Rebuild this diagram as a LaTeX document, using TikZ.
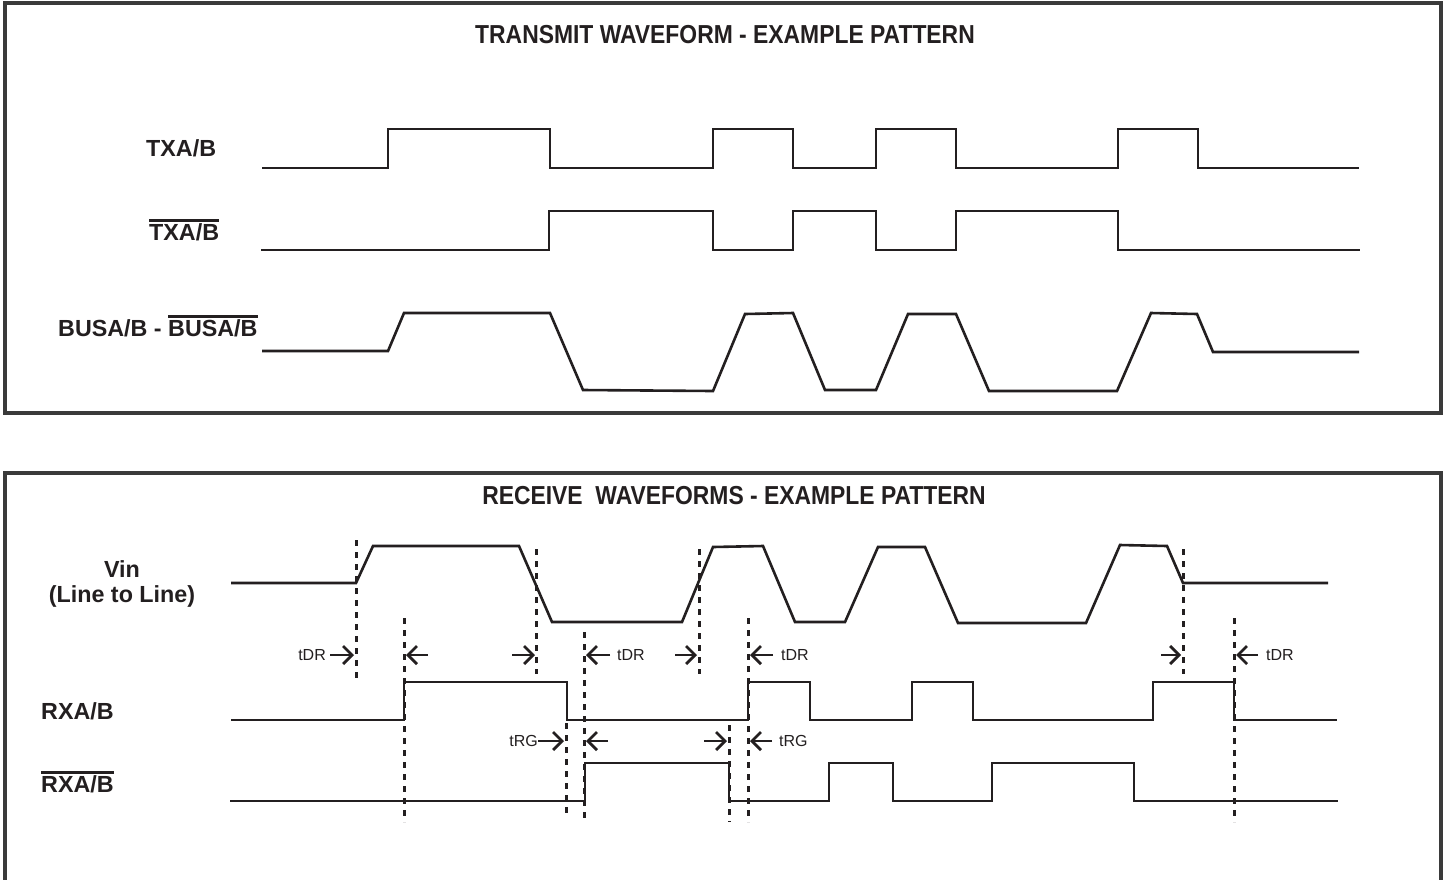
\documentclass[tikz,border=0pt]{standalone}
\usepackage{fontspec}
\setmainfont{Liberation Sans}
\newfontfamily\titlefam[FakeStretch=0.88]{Liberation Sans}
\usetikzlibrary{arrows.meta}
\definecolor{ink}{HTML}{231F20}
\definecolor{frame}{HTML}{3A3A3A}
\newcommand\ovl[1]{\vbox{\hrule height 2.6pt\kern 1.5pt\hbox{#1}}}
\tikzset{
  wave/.style={draw=ink, line width=2.6pt, line join=miter},
  panel/.style={draw=frame, line width=3.2pt},
  guide/.style={draw=ink, line width=3pt, dash pattern=on 5.5pt off 6.5pt},
  dimarrow/.style={draw=ink, line width=2.6pt, -{Straight Barb[length=9pt,width=18pt,line width=2.8pt]}},
  title/.style={inner sep=0pt, text=ink, font=\titlefam\bfseries\fontsize{26}{30}\selectfont},
  siglabel/.style={inner sep=0pt, text=ink, font=\bfseries\fontsize{23.3}{27}\selectfont},
  timelabel/.style={inner sep=0pt, text=ink, font=\fontsize{16}{18}\selectfont}
}
\begin{document}
\begin{tikzpicture}[x=1pt,y=-1pt]
\useasboundingbox (0,0) rectangle (1447,879);
\fill[white] (0,0) rectangle (1447,879);

% ---------------- Transmit panel ----------------
\draw[panel] (5,3) rectangle (1441,413);
\node[title, anchor=base] (ttitle) at (725,43) {TRANSMIT WAVEFORM - EXAMPLE PATTERN};

\node[siglabel, anchor=base west] (ltx) at (146,156) {TXA/B};
\node[siglabel, anchor=base west] (ltxb) at (149,240) {\ovl{TXA/B}};
\node[siglabel, anchor=base west] (lbus) at (58,336) {BUSA/B - \ovl{BUSA/B}};

\draw[wave] (262,168) -- (388,168) -- (388,129) -- (550,129) -- (550,168) -- (713,168) -- (713,129) -- (793,129) -- (793,168) -- (876,168) -- (876,129) -- (956,129) -- (956,168) -- (1118,168) -- (1118,129) -- (1198,129) -- (1198,168) -- (1359,168);

\draw[wave] (261,250) -- (549,250) -- (549,211) -- (713,211) -- (713,250) -- (793,250) -- (793,211) -- (876,211) -- (876,250) -- (956,250) -- (956,211) -- (1118,211) -- (1118,250) -- (1360,250);

\draw[wave] (262,351) -- (388,351) -- (404,313) -- (550,313) -- (583,390) -- (713,391) -- (745,314) -- (793,313) -- (825,390) -- (876,390) -- (908,314) -- (956,314) -- (989,391) -- (1117,391) -- (1151,313) -- (1197,314) -- (1213,352) -- (1359,352);

% ---------------- Receive panel ----------------
\draw[panel] (5,882) -- (5,473) -- (1441,473) -- (1441,882);
\node[title, anchor=base] (rtitle) at (734,504) {RECEIVE\ \ WAVEFORMS - EXAMPLE PATTERN};

\node[siglabel, anchor=base] (lvin) at (122,577) {Vin};
\node[siglabel, anchor=base] (lvin2) at (122,602) {(Line to Line)};
\node[siglabel, anchor=base west] (lrx) at (41,719) {RXA/B};
\node[siglabel, anchor=base west] (lrxb) at (41,792) {\ovl{RXA/B}};

\draw[wave] (231,583) -- (356,583) -- (373,546) -- (519,546) -- (552,622) -- (682,622) -- (713,547) -- (763,546) -- (795,622) -- (845,622) -- (878,547) -- (925,547) -- (958,623) -- (1086,623) -- (1120,545) -- (1167,546) -- (1183,583) -- (1328,583);

\draw[wave] (231,720) -- (404,720) -- (404,682) -- (567,682) -- (567,720) -- (748,720) -- (748,682) -- (810,682) -- (810,720) -- (912,720) -- (912,682) -- (973,682) -- (973,720) -- (1153,720) -- (1153,682) -- (1234,682) -- (1234,720) -- (1337,720);

\draw[wave] (230,801) -- (585,801) -- (585,763) -- (729,763) -- (729,801) -- (829,801) -- (829,763) -- (893,763) -- (893,801) -- (992,801) -- (992,763) -- (1134,763) -- (1134,801) -- (1338,801);

% guide lines
\draw[guide] (356,540) -- (356,678);
\draw[guide] (404,618) -- (404,822);
\draw[guide] (536,549) -- (536,674);
\draw[guide] (584,632) -- (584,822);
\draw[guide] (699,549) -- (699,674);
\draw[guide] (748,618) -- (748,822);
\draw[guide] (566,723) -- (566,817);
\draw[guide] (729,725) -- (729,822);
\draw[guide] (1183,549) -- (1183,674);
\draw[guide] (1234,618) -- (1234,822);

% tDR arrows
\node[timelabel, anchor=base east] (tdr1) at (326,660.5) {tDR};
\coordinate (a1) at (354,655);
\draw[dimarrow] (tdr1.east |- a1) ++(4,0) -- (a1);

\coordinate (a2s) at (428,655); \coordinate (a2) at (406,655);
\draw[dimarrow] (a2s) -- (a2);

\coordinate (a3s) at (512,655); \coordinate (a3) at (535,655);
\draw[dimarrow] (a3s) -- (a3);

\node[timelabel, anchor=base west] (tdr2) at (617,660.5) {tDR};
\coordinate (a4) at (586,655);
\draw[dimarrow] (tdr2.west |- a4) ++(-7,0) -- (a4);

\coordinate (a5s) at (675,655); \coordinate (a5) at (697,655);
\draw[dimarrow] (a5s) -- (a5);

\node[timelabel, anchor=base west] (tdr3) at (781,660.5) {tDR};
\coordinate (a6) at (750,655);
\draw[dimarrow] (tdr3.west |- a6) ++(-8,0) -- (a6);

\coordinate (a7s) at (1161,655); \coordinate (a7) at (1181,655);
\draw[dimarrow] (a7s) -- (a7);

\node[timelabel, anchor=base west] (tdr4) at (1266,660.5) {tDR};
\coordinate (a8) at (1236,655);
\draw[dimarrow] (tdr4.west |- a8) ++(-8,0) -- (a8);

% tRG arrows
\node[timelabel, anchor=base east] (trg1) at (538,746.5) {tRG};
\coordinate (b1) at (564,741);
\draw[dimarrow] (trg1.east |- b1) -- (b1);

\coordinate (b2s) at (608,741); \coordinate (b2) at (586,741);
\draw[dimarrow] (b2s) -- (b2);

\coordinate (b3s) at (704,741); \coordinate (b3) at (727,741);
\draw[dimarrow] (b3s) -- (b3);

\node[timelabel, anchor=base west] (trg2) at (779,746.5) {tRG};
\coordinate (b4) at (750,741);
\draw[dimarrow] (trg2.west |- b4) ++(-7,0) -- (b4);
\end{tikzpicture}
\end{document}
